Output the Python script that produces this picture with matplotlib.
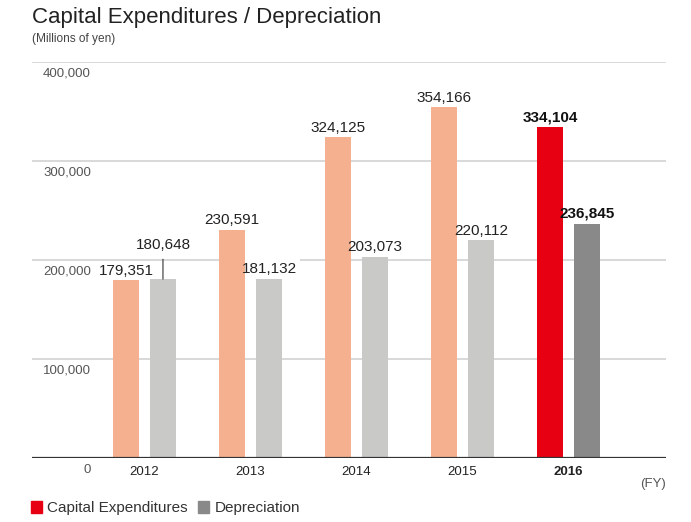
import matplotlib.pyplot as plt
from matplotlib.patches import Patch

plt.rcParams['font.family'] = ['Liberation Sans', 'DejaVu Sans']

# data (millions of yen)
years = ['2012', '2013', '2014', '2015', '2016']
capex = [179351, 230591, 324125, 354166, 334104]
depreciation = [180648, 181132, 203073, 220112, 236845]
yticks = [0, 100000, 200000, 300000, 400000]

capex_colors = ['#F5B08F'] * 4 + ['#E60012']
dep_colors = ['#C9CAC8'] * 4 + ['#898989']

W, H = 691, 522
fig = plt.figure(figsize=(W / 100, H / 100), dpi=100)
ax = fig.add_axes([32 / W, (H - 458) / H, 634 / W, 396 / H])

x = list(range(len(years)))
off = 0.1745
bw = 0.245
ax.bar([i - off for i in x], capex, width=bw, color=capex_colors, zorder=2)
ax.bar([i + off for i in x], depreciation, width=bw, color=dep_colors, zorder=2)

ax.set_xlim(-1.061, 4.92)
ax.set_ylim(0, 400000)

# grid lines, labels sit just under them
for v in yticks[1:]:
    ax.axhline(v, color='#D2D2D2', lw=1.2, zorder=1)
ax.axhline(0, color='#333333', lw=1.6, zorder=3)
for v in yticks:
    ax.annotate(f'{v:,}', xy=(0.093, v), xycoords=('axes fraction', 'data'),
                xytext=(0, -4), textcoords='offset points',
                ha='right', va='top', fontsize=9.5, color='#555555')

for s in ax.spines.values():
    s.set_visible(False)
ax.set_yticks([])
ax.set_xticks(x)
ax.set_xticklabels(years, fontsize=9.5, color='#222222')
ax.tick_params(axis='x', length=0, pad=6)
ax.get_xticklabels()[-1].set_fontweight('bold')


def value_label(xv, yv, text, bold, dy=4, leader=False):
    kw = dict(xy=(xv, yv), xytext=(0, dy), textcoords='offset points',
              ha='center', va='baseline', fontsize=11, fontweight=bold)
    # white patch behind the text hides the grid line, but stays under the bars
    ax.annotate(text, color='none', zorder=1.5,
                bbox=dict(boxstyle='square,pad=0.2', fc='white', ec='none'), **kw)
    if leader:
        kw['arrowprops'] = dict(arrowstyle='-', color='#333333', lw=0.8,
                                shrinkA=3, shrinkB=0)
    ax.annotate(text, color='#111111' if bold == 'bold' else '#222222', zorder=4, **kw)


for i in x:
    bold = 'bold' if i == len(x) - 1 else 'normal'
    value_label(i - off, capex[i], f'{capex[i]:,}', bold)
    if i == 0:
        value_label(i + off, depreciation[i], f'{depreciation[i]:,}', bold, dy=21.5, leader=True)
    else:
        value_label(i + off, depreciation[i], f'{depreciation[i]:,}', bold)

fig.text(32 / W, 1 - 17 / H, 'Capital Expenditures / Depreciation', fontsize=16,
         color='#222222', va='center', ha='left')
fig.text(32 / W, 1 - 39 / H, '(Millions of yen)', fontsize=8.6, color='#444444',
         va='center', ha='left')
fig.text(666 / W, 1 - 484 / H, '(FY)', fontsize=9.5, color='#555555',
         va='center', ha='right')

handles = [Patch(color='#E60012'), Patch(color='#898989')]
fig.legend(handles, ['Capital Expenditures', 'Depreciation'], loc='center left',
           bbox_to_anchor=(31 / W, 1 - 508 / H), ncol=2, frameon=False,
           fontsize=11, handlelength=0.7, handleheight=0.8, handletextpad=0.35,
           columnspacing=0.7, borderpad=0, borderaxespad=0, labelcolor='#333333')

fig.savefig('out.png', dpi=100)
